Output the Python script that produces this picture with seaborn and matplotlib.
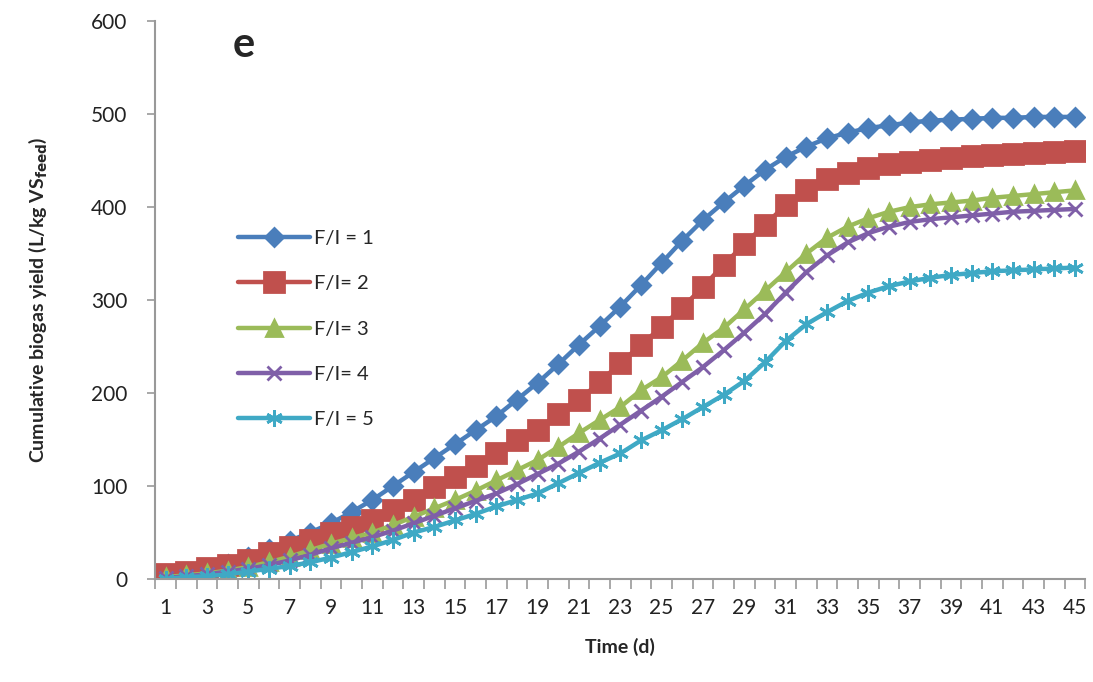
import seaborn as sns
import matplotlib.pyplot as plt
import pandas as pd
from matplotlib.ticker import MultipleLocator, FixedLocator

sns.set_style("white")
plt.rcParams['font.family'] = ['Lato', 'DejaVu Sans']

days = list(range(1, 46))

fi_1 = [2, 5, 10, 16, 24, 32, 41, 50, 60, 72, 85, 100, 115, 130, 145, 160, 175, 193, 211, 231,
        252, 272, 293, 316, 340, 364, 386, 405, 423, 440, 454, 465, 474, 480, 485, 488, 491, 493,
        494, 495, 496, 496, 497, 497, 497]
fi_2 = [5, 8, 12, 15, 20, 28, 34, 42, 49, 56, 63, 74, 85, 99, 110, 122, 135, 149, 160, 178,
        192, 212, 232, 252, 271, 292, 314, 338, 360, 381, 402, 418, 430, 437, 442, 446, 449, 451,
        453, 455, 456, 457, 458, 459, 460]
fi_3 = [2, 4, 6, 9, 13, 18, 24, 31, 38, 44, 50, 58, 67, 76, 85, 95, 106, 117, 128, 142,
        157, 171, 185, 203, 217, 235, 254, 270, 290, 310, 330, 350, 367, 379, 388, 395, 400, 403,
        405, 407, 410, 412, 414, 416, 418]
fi_4 = [1, 3, 5, 8, 11, 15, 20, 26, 33, 39, 45, 52, 60, 68, 76, 84, 92, 102, 113, 124,
        137, 151, 166, 181, 196, 212, 228, 246, 265, 285, 308, 330, 348, 362, 372, 379, 384, 387,
        389, 391, 393, 395, 396, 397, 398]
fi_5 = [0, 2, 3, 5, 8, 11, 14, 18, 23, 29, 35, 42, 50, 56, 63, 70, 78, 85, 92, 103,
        114, 125, 135, 149, 160, 172, 185, 198, 213, 233, 256, 274, 287, 299, 308, 315, 320, 324,
        327, 329, 331, 332, 333, 334, 335]

labels = ["F/I = 1", "F/I= 2", "F/I= 3", "F/I= 4", "F/I = 5"]
series = [fi_1, fi_2, fi_3, fi_4, fi_5]
colors = ["#4A7EBB", "#C0504D", "#9BBB59", "#7F5FA8", "#3FA9C5"]
markers = ["D", "s", "^", "x", (6, 2, 0)]
msizes = [9, 15, 11, 10, 12]

df = pd.DataFrame({
    'day': days * len(series),
    'yield': [v for s in series for v in s],
    'ratio': [lab for lab in labels for _ in days],
})

fig, ax = plt.subplots(figsize=(10.93, 6.82), dpi=100)
fig.subplots_adjust(left=0.142, right=0.993, top=0.969, bottom=0.151)

for lab, c, m, ms in zip(labels, colors, markers, msizes):
    sns.lineplot(data=df[df['ratio'] == lab], x='day', y='yield', ax=ax, color=c,
                 marker=m, markersize=ms, markeredgecolor=c, markeredgewidth=2,
                 linewidth=3.2, label=lab)

ax.set_xlim(0.5, 45.5)
ax.set_ylim(0, 600)
ax.yaxis.set_major_locator(MultipleLocator(100))
ax.xaxis.set_major_locator(FixedLocator(days[::2]))
ax.xaxis.set_minor_locator(FixedLocator([d + 0.5 for d in range(0, 46)]))
ax.tick_params(axis='x', which='major', length=0, pad=14, labelsize=15, colors='#222222')
ax.tick_params(axis='x', which='minor', bottom=True, length=7, width=1.2, color='#999999', direction='out')
ax.tick_params(axis='y', which='major', left=True, length=6, width=1.2, color='#999999',
               direction='out', labelsize=15, pad=14, labelcolor='#222222')

for side in ['top', 'right']:
    ax.spines[side].set_visible(False)
for side in ['left', 'bottom']:
    ax.spines[side].set_color('#999999')
    ax.spines[side].set_linewidth(1.5)

ax.set_xlabel('Time (d)', fontsize=14, fontweight='bold', labelpad=14)
ax.set_ylabel(r'Cumulative biogas yield (L/kg VS$_{\mathbf{feed}}$)', fontsize=14,
              fontweight='bold', labelpad=30)

ax.text(0.083, 0.957, 'e', transform=ax.transAxes, fontsize=30, fontweight='bold',
        ha='left', va='center')

ax.legend(loc='upper left', bbox_to_anchor=(0.08, 0.64), frameon=False, fontsize=14.5,
          handlelength=3.6, labelspacing=1.4, handletextpad=0.2, borderaxespad=0)

fig.savefig("out.png", dpi=100)
